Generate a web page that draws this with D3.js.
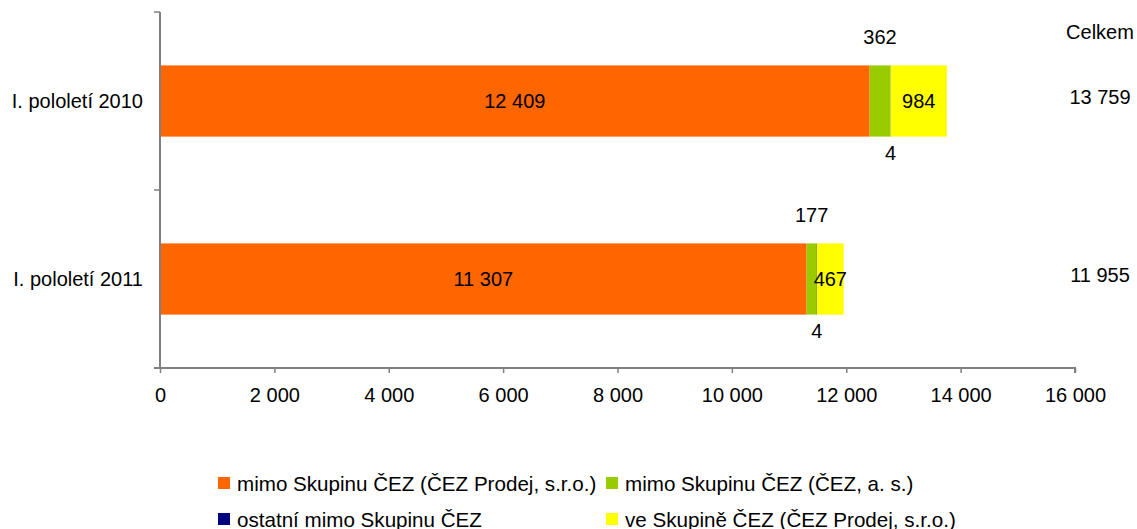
<!DOCTYPE html>
<html><head><meta charset="utf-8">
<script src="https://cdn.jsdelivr.net/npm/d3@7"></script>
<style>
body{margin:0;background:#fff;}
svg{display:block;font-family:"Liberation Sans",Arial,sans-serif;}
</style></head>
<body><svg id="c" width="1137" height="529"></svg>
<script>
const categories = ["I. pololetí 2010", "I. pololetí 2011"];
const seriesNames = ["mimo Skupinu ČEZ (ČEZ Prodej, s.r.o.)", "mimo Skupinu ČEZ (ČEZ, a. s.)", "ostatní mimo Skupinu ČEZ", "ve Skupině ČEZ (ČEZ Prodej, s.r.o.)"];
const prodejOut = [12409, 11307];
const cezAsOut = [362, 177];
const otherOut = [4, 4];
const prodejIn = [984, 467];
const totals = [13759, 11955];
const xTicks = [0, 2000, 4000, 6000, 8000, 10000, 12000, 14000, 16000];
const colors = ["#FF6600", "#99CC00", "#000080", "#FFFF00"];
const totalTitle = "Celkem";

const svg = d3.select("#c");
const fs = 20;
const fmt = v => d3.format(",")(v).replace(/,/g, " ");

const x = d3.scaleLinear().domain([0, 16000]).range([160, 1075]);
const y = d3.scaleBand().domain(categories).range([12, 368]).paddingInner(0.6).paddingOuter(0.3);

const rows = categories.map((c, i) => ({cat: c, vals: [prodejOut[i], cezAsOut[i], otherOut[i], prodejIn[i]]}));
const stack = d3.stack().keys([0,1,2,3]).value((d, k) => d.vals[k]);
const layers = stack(rows);

// bars
layers.forEach((layer, k) => {
  svg.append("g").selectAll("rect").data(layer).join("rect")
    .attr("x", d => x(d[0]))
    .attr("width", d => x(d[1]) - x(d[0]))
    .attr("y", d => y(d.data.cat))
    .attr("height", y.bandwidth())
    .attr("fill", colors[k]);
});

// x axis
const xAxis = d3.axisBottom(x).tickValues(xTicks).tickFormat(fmt).tickSize(5).tickSizeOuter(5);
const gx = svg.append("g").attr("transform", "translate(0,368)").call(xAxis);
gx.select(".domain").attr("stroke", "#808080").attr("stroke-width", 2).attr("d", "M154,0H1075V5");
gx.selectAll(".tick line").attr("stroke", "#808080").attr("stroke-width", 1.5);
gx.selectAll(".tick text").attr("font-size", fs).attr("fill", "#000").attr("dy", "1.3em").attr("font-family", "Liberation Sans, Arial, sans-serif");

// y axis line with category boundary ticks
const step = y.step();
const yBounds = [12, 12 + step, 368];
svg.append("line").attr("x1", 160).attr("x2", 160).attr("y1", 12).attr("y2", 368).attr("stroke", "#808080").attr("stroke-width", 2);
svg.append("g").selectAll("line").data(yBounds).join("line")
  .attr("x1", 154).attr("x2", 160).attr("y1", d => d).attr("y2", d => d)
  .attr("stroke", "#808080").attr("stroke-width", 1.5);

// category labels
svg.append("g").selectAll("text").data(categories).join("text")
  .attr("x", 143).attr("y", d => y(d) + y.bandwidth()/2)
  .attr("text-anchor", "end").attr("dominant-baseline", "central")
  .attr("font-size", fs).text(d => d);

// value labels
layers.forEach((layer, k) => {
  svg.append("g").selectAll("text").data(layer).join("text")
    .attr("x", d => (x(d[0]) + x(d[1])) / 2)
    .attr("y", d => {
      const top = y(d.data.cat), bot = top + y.bandwidth();
      if (k === 1) return top - 28;
      if (k === 2) return bot + 16;
      return top + y.bandwidth()/2;
    })
    .attr("text-anchor", "middle").attr("dominant-baseline", "central")
    .attr("font-size", fs).attr("fill", "#000")
    .text(d => fmt(d.data.vals[k]));
});

// totals
svg.append("text").attr("x", 1100).attr("y", 32).attr("text-anchor", "middle").attr("dominant-baseline", "central").attr("font-size", fs).text(totalTitle);
svg.append("g").selectAll("text").data(categories).join("text")
  .attr("x", 1100).attr("y", (d) => y(d) + y.bandwidth()/2 - 4)
  .attr("text-anchor", "middle").attr("dominant-baseline", "central")
  .attr("font-size", fs).text((d, i) => fmt(totals[i]));

// legend
const legPos = [[218, 483], [606, 483], [218, 519], [606, 519]];
const lg = svg.append("g").selectAll("g").data(seriesNames).join("g")
  .attr("transform", (d, i) => `translate(${legPos[i][0]},${legPos[i][1]})`);
lg.append("rect").attr("x", 0).attr("y", -6).attr("width", 12).attr("height", 12)
  .attr("fill", (d, i) => colors[i]);
lg.append("text").attr("x", 19).attr("y", 0).attr("dominant-baseline", "central")
  .attr("font-size", 20.6).text(d => d);
</script></body></html>
